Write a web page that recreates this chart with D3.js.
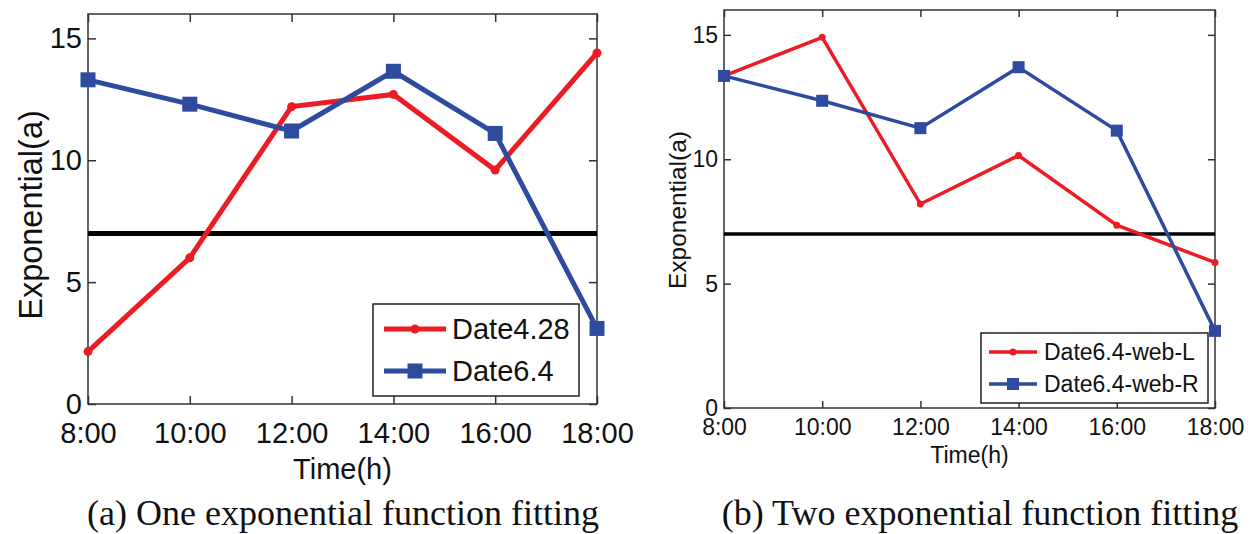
<!DOCTYPE html>
<html>
<head>
<meta charset="utf-8">
<script src="https://cdn.jsdelivr.net/npm/d3@7"></script>
<style>
body { margin: 0; background: #fff; }
svg { display: block; }
</style>
</head>
<body>
<svg id="chart" width="1253" height="534"></svg>
<script>
var hours = [8, 10, 12, 14, 16, 18];
var timeLabels = ["8:00", "10:00", "12:00", "14:00", "16:00", "18:00"];
var yTicks = [0, 5, 10, 15];
var threshold = 7;

// (a) one exponential function fitting
var date428 = [2.15, 6.0, 12.2, 12.7, 9.6, 14.4];
var date64 = [13.3, 12.3, 11.2, 13.65, 11.1, 3.1];

// (b) two exponential function fitting
var webL = [13.35, 14.9, 8.2, 10.15, 7.35, 5.85];
var webR = [13.35, 12.35, 11.25, 13.7, 11.15, 3.1];

var red = "#ec1c24";
var blue = "#2d4b9f";

var svg = d3.select("#chart");

function drawPanel(p) {
	var xScale = d3.scaleLinear()
		.domain([8, 18])
		.range([p.left, p.right]);
	var yScale = d3.scaleLinear()
		.domain([0, 16])
		.range([p.bottom, p.top]);

	var g = svg.append("g");

	var xAxis = d3.axisBottom(xScale)
		.tickValues(hours)
		.tickFormat(function (d, i) { return timeLabels[i]; })
		.tickSizeInner(-p.tick)
		.tickSizeOuter(0)
		.tickPadding(p.xPad);
	var yAxis = d3.axisLeft(yScale)
		.tickValues(yTicks)
		.tickSizeInner(-p.tick)
		.tickSizeOuter(0)
		.tickPadding(6);

	g.append("g")
		.attr("transform", "translate(0," + p.bottom + ")")
		.call(xAxis);
	g.append("g")
		.attr("transform", "translate(" + p.left + ",0)")
		.call(yAxis);
	g.append("g")
		.attr("transform", "translate(0," + p.top + ")")
		.call(d3.axisTop(xScale).tickValues(hours).tickFormat("").tickSizeInner(-p.tick).tickSizeOuter(0));
	g.append("g")
		.attr("transform", "translate(" + p.right + ",0)")
		.call(d3.axisRight(yScale).tickValues(yTicks).tickFormat("").tickSizeInner(-p.tick).tickSizeOuter(0));

	g.selectAll(".domain").remove();
	g.selectAll(".tick line").attr("stroke", "#333").attr("stroke-width", 1.5);
	g.selectAll(".tick text")
		.attr("fill", "#111")
		.style("font-family", "Liberation Sans, Arial, sans-serif")
		.style("font-size", p.tickFont + "px");

	g.append("rect")
		.attr("x", p.left)
		.attr("y", p.top)
		.attr("width", p.right - p.left)
		.attr("height", p.bottom - p.top)
		.attr("fill", "none")
		.attr("stroke", "#333")
		.attr("stroke-width", 1.5);

	// threshold line
	g.append("line")
		.attr("x1", p.left)
		.attr("x2", p.right)
		.attr("y1", yScale(threshold))
		.attr("y2", yScale(threshold))
		.attr("stroke", "#000")
		.attr("stroke-width", p.lw);

	var line = d3.line()
		.x(function (d, i) { return xScale(hours[i]); })
		.y(function (d) { return yScale(d); });

	g.append("path")
		.datum(p.redData)
		.attr("d", line)
		.attr("fill", "none")
		.attr("stroke", red)
		.attr("stroke-width", p.lw);
	g.selectAll(".dot")
		.data(p.redData)
		.enter()
		.append("circle")
		.attr("cx", function (d, i) { return xScale(hours[i]); })
		.attr("cy", function (d) { return yScale(d); })
		.attr("r", p.dot)
		.attr("fill", red);

	g.append("path")
		.datum(p.blueData)
		.attr("d", line)
		.attr("fill", "none")
		.attr("stroke", blue)
		.attr("stroke-width", p.lw);
	g.selectAll(".sq")
		.data(p.blueData)
		.enter()
		.append("rect")
		.attr("x", function (d, i) { return xScale(hours[i]) - p.sq / 2; })
		.attr("y", function (d) { return yScale(d) - p.sq / 2; })
		.attr("width", p.sq)
		.attr("height", p.sq)
		.attr("fill", blue);

	// axis titles
	g.append("text")
		.attr("x", (p.left + p.right) / 2)
		.attr("y", p.xTitleY)
		.attr("text-anchor", "middle")
		.style("font-family", "Liberation Sans, Arial, sans-serif")
		.style("font-size", p.xTitleFont + "px")
		.attr("fill", "#111")
		.text("Time(h)");
	g.append("text")
		.attr("transform", "translate(" + p.yTitleX + "," + p.yTitleMid + ") rotate(-90)")
		.attr("text-anchor", "middle")
		.style("font-family", "Liberation Sans, Arial, sans-serif")
		.style("font-size", p.yTitleFont + "px")
		.attr("fill", "#111")
		.text("Exponential(a)");

	// legend
	var lg = p.legend;
	g.append("rect")
		.attr("x", lg.x)
		.attr("y", lg.y)
		.attr("width", lg.w)
		.attr("height", lg.h)
		.attr("fill", "#fff")
		.attr("stroke", "#222")
		.attr("stroke-width", 1.5);
	var items = [
		{ name: p.names[0], color: red, mark: "dot" },
		{ name: p.names[1], color: blue, mark: "sq" }
	];
	items.forEach(function (it, i) {
		var yy = lg.rows[i];
		g.append("line")
			.attr("x1", lg.lx0)
			.attr("x2", lg.lx1)
			.attr("y1", yy)
			.attr("y2", yy)
			.attr("stroke", it.color)
			.attr("stroke-width", p.lw);
		var mx = (lg.lx0 + lg.lx1) / 2;
		if (it.mark === "dot") {
			g.append("circle").attr("cx", mx).attr("cy", yy).attr("r", p.dot).attr("fill", it.color);
		} else {
			g.append("rect").attr("x", mx - p.sq / 2).attr("y", yy - p.sq / 2)
				.attr("width", p.sq).attr("height", p.sq).attr("fill", it.color);
		}
		g.append("text")
			.attr("x", lg.tx)
			.attr("y", yy)
			.attr("dy", "0.36em")
			.style("font-family", "Liberation Sans, Arial, sans-serif")
			.style("font-size", lg.font + "px")
			.attr("fill", "#111")
			.text(it.name);
	});

	// caption
	svg.append("text")
		.attr("x", p.capX)
		.attr("y", 525)
		.attr("text-anchor", "middle")
		.style("font-family", "Liberation Serif, Times New Roman, serif")
		.style("font-size", "36px")
		.attr("fill", "#111")
		.text(p.caption);
}

drawPanel({
	left: 88, right: 597, top: 14, bottom: 404,
	tick: 8, xPad: 18, tickFont: 29,
	xTitleFont: 29, xTitleY: 479,
	yTitleFont: 32.5, yTitleX: 42, yTitleMid: 215,
	lw: 5, dot: 4.5, sq: 15,
	redData: date428, blueData: date64,
	names: ["Date4.28", "Date6.4"],
	legend: { x: 373, y: 304, w: 206, h: 92, rows: [329, 371], lx0: 384, lx1: 446, tx: 452, font: 29 },
	capX: 343,
	caption: "(a) One exponential function fitting"
});

drawPanel({
	left: 724, right: 1215, top: 10, bottom: 408,
	tick: 7, xPad: 11, tickFont: 23,
	xTitleFont: 23, xTitleY: 463,
	yTitleFont: 24.5, yTitleX: 686, yTitleMid: 210,
	lw: 3.5, dot: 3.5, sq: 12,
	redData: webL, blueData: webR,
	names: ["Date6.4-web-L", "Date6.4-web-R"],
	legend: { x: 981, y: 333, w: 227, h: 70, rows: [352, 384], lx0: 989, lx1: 1037, tx: 1044, font: 23 },
	capX: 980,
	caption: "(b) Two exponential function fitting"
});
</script>
</body>
</html>
